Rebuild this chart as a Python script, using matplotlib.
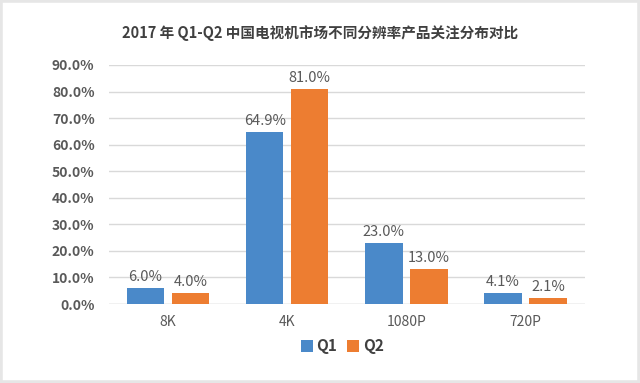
import matplotlib
matplotlib.use("Agg")
import matplotlib.pyplot as plt
import numpy as np
from matplotlib.patches import Rectangle

plt.rcParams['font.family'] = ['Noto Sans CJK SC', 'DejaVu Sans']

title = "2017 年 Q1-Q2 中国电视机市场不同分辨率产品关注分布对比"
categories = ["8K", "4K", "1080P", "720P"]
series_names = ["Q1", "Q2"]
q1 = [6.0, 64.9, 23.0, 4.1]
q2 = [4.0, 81.0, 13.0, 2.1]
yticks = [0, 10, 20, 30, 40, 50, 60, 70, 80, 90]
colors = ["#4a89c9", "#ed7d31"]

fig = plt.figure(figsize=(6.4, 3.83), dpi=100)
fig.patches.append(Rectangle((0, 0), 1, 1, transform=fig.transFigure,
                             fill=False, edgecolor="#e6e6e6", linewidth=4))
ax = fig.add_axes([108.5/640, 1-304/383, 476.5/640, 239/383])

x = np.arange(len(categories))
w = 0.315
gap = 0.063
off = (w + gap) / 2
b1 = ax.bar(x - off, q1, w, color=colors[0], label=series_names[0], zorder=3)
b2 = ax.bar(x + off, q2, w, color=colors[1], label=series_names[1], zorder=3)

for bars, vals in ((b1, q1), (b2, q2)):
    for r, v in zip(bars, vals):
        ax.text(r.get_x() + r.get_width()/2, v + 1.5, f"{v:.1f}%",
                ha="center", va="bottom", fontsize=10.5, color="#595959")

ax.set_xlim(-0.5, len(categories) - 0.5)
ax.set_ylim(0, 90)
ax.set_yticks(yticks)
ax.set_yticklabels([f"{t:.1f}%" for t in yticks], fontsize=10, fontweight="bold", color="#595959")
ax.set_xticks(x)
ax.set_xticklabels(categories, fontsize=10, color="#595959")
ax.tick_params(axis="both", length=0)
ax.tick_params(axis="y", pad=10)
ax.tick_params(axis="x", pad=8)
ax.yaxis.grid(True, color="#d9d9d9", linewidth=1, zorder=0)
for s in ax.spines.values():
    s.set_visible(False)
ax.axhline(0, color="#d9d9d9", linewidth=1, zorder=2)

fig.text(0.5, 1-33/383, title, ha="center", va="center", fontsize=10.5,
         fontweight="bold", color="#404040")

leg = fig.legend(handles=[b1, b2], labels=series_names, loc="center",
                 bbox_to_anchor=(342/640, 1-346/383), ncol=2, frameon=False,
                 handlelength=0.8, handleheight=0.8, handletextpad=0.25,
                 columnspacing=0.6, prop={"size": 11, "weight": "bold"})
for t in leg.get_texts():
    t.set_color("#404040")

fig.savefig("out.png", dpi=100)
